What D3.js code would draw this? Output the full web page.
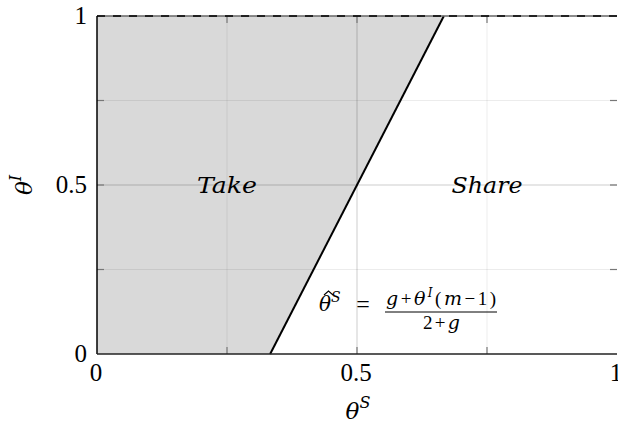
<!DOCTYPE html>
<html>
<head>
<meta charset="utf-8">
<script src="https://cdn.jsdelivr.net/npm/d3@7"></script>
<style>
  html, body { margin: 0; padding: 0; background: #fff; }
  svg { display: block; }
  text { font-family: "Liberation Serif", serif; fill: #000; }
  .it { font-family: "DejaVu Serif", serif; font-style: italic; }
</style>
</head>
<body>
<script>
// Axis ticks
const majorTicks = [0, 0.5, 1];
const gridTicks = [0.25, 0.5, 0.75];
const tickLabels = ["0", "0.5", "1"];

// Threshold line (theta^S at theta^I = 0 and theta^I = 1), g = 1, m = 2
const boundaryS = [0.333, 0.667];
const boundaryI = [0, 1];

// Region labels
const regionNames = ["Take", "Share"];
const regionS = [0.25, 0.75];
const regionI = [0.5, 0.5];

const W = 618, H = 424;
const svg = d3.select("body").append("svg").attr("width", W).attr("height", H);

const x = d3.scaleLinear().domain([0, 1]).range([97, 617]);
const y = d3.scaleLinear().domain([0, 1]).range([354, 16]);

// "Take" region: left of the threshold line
const takePoly = [[0, 0], [boundaryS[0], boundaryI[0]], [boundaryS[1], boundaryI[1]], [0, 1]];
svg.append("path")
  .attr("d", d3.line().x(d => x(d[0])).y(d => y(d[1]))(takePoly) + "Z")
  .attr("fill", "#d9d9d9");

// Grid
const grid = svg.append("g");
gridTicks.forEach(t => {
  const op = t === 0.5 ? 0.2 : 0.075;
  grid.append("line").attr("x1", x(t)).attr("x2", x(t)).attr("y1", y(0)).attr("y2", y(1))
    .attr("stroke", "#000").attr("stroke-opacity", op).attr("stroke-width", 1);
  grid.append("line").attr("x1", x(0)).attr("x2", x(1)).attr("y1", y(t)).attr("y2", y(t))
    .attr("stroke", "#000").attr("stroke-opacity", op).attr("stroke-width", 1);
});

// Inward ticks on all four sides
const tk = svg.append("g").attr("stroke", "#777").attr("stroke-width", 1.2);
gridTicks.forEach(t => {
  tk.append("line").attr("x1", x(t)).attr("x2", x(t)).attr("y1", y(0)).attr("y2", y(0) - 7);
  tk.append("line").attr("x1", x(t)).attr("x2", x(t)).attr("y1", y(1)).attr("y2", y(1) + 7);
  tk.append("line").attr("x1", x(0)).attr("x2", x(0) + 7).attr("y1", y(t)).attr("y2", y(t));
  tk.append("line").attr("x1", x(1)).attr("x2", x(1) - 7).attr("y1", y(t)).attr("y2", y(t));
});

// Threshold line
svg.append("line")
  .attr("x1", x(boundaryS[0])).attr("y1", y(boundaryI[0]))
  .attr("x2", x(boundaryS[1])).attr("y2", y(boundaryI[1]))
  .attr("stroke", "#000").attr("stroke-width", 2);

// Axis frame: left and bottom solid, top with dashed overlay
svg.append("line").attr("x1", x(0)).attr("x2", x(1)).attr("y1", y(1)).attr("y2", y(1))
  .attr("stroke", "#666").attr("stroke-width", 1.6);
svg.append("line").attr("x1", x(0)).attr("x2", x(1)).attr("y1", y(1)).attr("y2", y(1))
  .attr("stroke", "#000").attr("stroke-width", 1.6).attr("stroke-dasharray", "8,8");
svg.append("line").attr("x1", x(0)).attr("x2", x(0)).attr("y1", y(0)).attr("y2", y(1))
  .attr("stroke", "#000").attr("stroke-width", 1.5);
svg.append("line").attr("x1", x(0)).attr("x2", x(1)).attr("y1", y(0)).attr("y2", y(0))
  .attr("stroke", "#222").attr("stroke-width", 1.5);

// Tick labels
majorTicks.forEach((t, i) => {
  svg.append("text").attr("x", x(t) - 1).attr("y", y(0) + 27)
    .attr("text-anchor", "middle").attr("font-size", 25).text(tickLabels[i]);
  svg.append("text").attr("x", 87).attr("y", y(t) + 8)
    .attr("text-anchor", "end").attr("font-size", 25).text(tickLabels[i]);
});

// Axis titles
const xt = svg.append("text").attr("x", 358).attr("y", 419)
  .attr("text-anchor", "middle").attr("font-size", 23);
xt.append("tspan").attr("class", "it").text("θ");
xt.append("tspan").attr("class", "it").attr("font-size", 16).attr("dy", -11).text("S");

const yt = svg.append("text").attr("transform", `translate(32,${y(0.5)}) rotate(-90)`)
  .attr("text-anchor", "middle").attr("font-size", 23);
yt.append("tspan").attr("class", "it").text("θ");
yt.append("tspan").attr("class", "it").attr("font-size", 16).attr("dy", -11).text("I");

// Region labels
const regionWidths = [60, 71];
regionNames.forEach((n, i) => {
  svg.append("text").attr("class", "it")
    .attr("x", x(regionS[i]) - regionWidths[i] / 2).attr("y", y(regionI[i]) + 8)
    .attr("font-size", 22)
    .attr("textLength", regionWidths[i]).attr("lengthAdjust", "spacingAndGlyphs")
    .text(n);
});

// Threshold formula
const fy = 311;
const lhs = svg.append("text").attr("x", 319).attr("y", fy).attr("font-size", 20);
lhs.append("tspan").attr("class", "it").text("θ");
lhs.append("tspan").attr("class", "it").attr("font-size", 14).attr("dy", -9).text("S");
// hat accent over theta
svg.append("path")
  .attr("d", `M${324},${fy - 16} L${328.5},${fy - 20} L${333},${fy - 16}`)
  .attr("fill", "none").attr("stroke", "#000").attr("stroke-width", 1.1);
svg.append("text").attr("x", 363).attr("y", fy + 1).attr("text-anchor", "middle")
  .attr("font-size", 24).text("=");
const num = svg.append("text").attr("x", 386).attr("y", 305).attr("font-size", 19)
  .attr("textLength", 110).attr("lengthAdjust", "spacing");
num.append("tspan").attr("class", "it").text("g");
num.append("tspan").text("+");
num.append("tspan").attr("class", "it").text("θ");
num.append("tspan").attr("class", "it").attr("font-size", 12).attr("dy", -8).text("I");
num.append("tspan").attr("dy", 8).text("(");
num.append("tspan").attr("class", "it").text("m");
num.append("tspan").text("−");
num.append("tspan").text("1)");
svg.append("line").attr("x1", 385).attr("x2", 497).attr("y1", 312).attr("y2", 312)
  .attr("stroke", "#000").attr("stroke-width", 1);
const den = svg.append("text").attr("x", 423).attr("y", 329).attr("font-size", 19)
  .attr("textLength", 37).attr("lengthAdjust", "spacing");
den.append("tspan").text("2");
den.append("tspan").text("+");
den.append("tspan").attr("class", "it").text("g");
</script>
</body>
</html>
